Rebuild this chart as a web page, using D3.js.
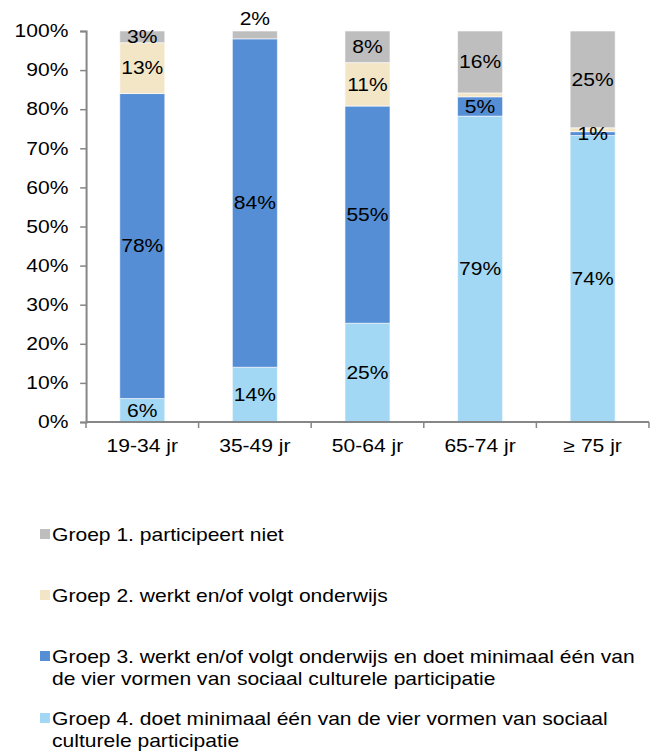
<!DOCTYPE html>
<html>
<head>
<meta charset="utf-8">
<script src="https://cdn.jsdelivr.net/npm/d3@7/dist/d3.min.js"></script>
<style>
  html, body { margin: 0; padding: 0; background: #fff; }
  svg { display: block; }
  text { font-family: "Liberation Sans", Arial, sans-serif; fill: #000; }
</style>
</head>
<body>
<script>
// ---- data ----
const categories = ["19-34 jr", "35-49 jr", "50-64 jr", "65-74 jr", "\u2265 75 jr"];
const groep1 = [3, 2, 8, 16, 25];   // participeert niet
const groep2 = [13, 0, 11, 1, 1];   // werkt en/of volgt onderwijs
const groep3 = [78, 84, 55, 5, 1];  // werkt/onderwijs + participatie
const groep4 = [6, 14, 25, 79, 74]; // doet minimaal één vorm
const groep2LabelShown = [true, false, true, false, false];
const yTicks = [0, 0.1, 0.2, 0.3, 0.4, 0.5, 0.6, 0.7, 0.8, 0.9, 1.0];
const seriesNames = [
  ["Groep 1. participeert niet"],
  ["Groep 2. werkt en/of volgt onderwijs"],
  ["Groep 3. werkt en/of volgt onderwijs en doet minimaal \u00e9\u00e9n van", "de vier vormen van sociaal culturele participatie"],
  ["Groep 4. doet minimaal \u00e9\u00e9n van de vier vormen van sociaal", "culturele participatie"]
];
const colors = {g1: "#BEBEBE", g2: "#F3E6C6", g3: "#558ED5", g4: "#A3D8F5"};

// ---- layout (viewBox slightly narrower to reproduce horizontal stretch) ----
const W = 559, H = 751;
const svg = d3.select("body").append("svg")
  .attr("width", 654).attr("height", 751)
  .attr("viewBox", `0 0 ${W} ${H}`)
  .attr("preserveAspectRatio", "none");

const table = categories.map((c, i) => ({cat: c, g4: groep4[i], g3: groep3[i], g2: groep2[i], g1: groep1[i]}));
const keys = ["g4", "g3", "g2", "g1"];
const stacked = d3.stack().keys(keys).offset(d3.stackOffsetExpand)(table);

const x = d3.scaleBand().domain(categories).range([73.5, 554.7]).paddingInner(0.6).paddingOuter(0.3);
const y = d3.scaleLinear().domain([0, 1]).range([422, 31]);

const axisColor = "#868686";

// bars
const layers = svg.append("g").selectAll("g").data(stacked).join("g")
  .attr("fill", d => colors[d.key]);
layers.selectAll("rect").data(d => d).join("rect")
  .attr("x", d => x(d.data.cat))
  .attr("width", x.bandwidth())
  .attr("y", d => y(d[1]))
  .attr("height", d => y(d[0]) - y(d[1]))
  .attr("stroke", "#fff").attr("stroke-width", 0.6)
  .attr("vector-effect", "non-scaling-stroke");

// labels
const labelG = svg.append("g");
stacked.forEach(layer => {
  layer.forEach((d, i) => {
    const v = d.data[layer.key];
    if (v <= 0) return;
    if (layer.key === "g2" && !groep2LabelShown[i]) return;
    const h = y(d[0]) - y(d[1]);
    let ly = (y(d[0]) + y(d[1])) / 2;
    let dy = "0.35em";
    if (layer.key === "g1" && h < 9) { ly = y(d[1]) - 6; dy = "0"; }
    labelG.append("text")
      .attr("x", x(d.data.cat) + x.bandwidth() / 2)
      .attr("y", ly).attr("dy", dy)
      .attr("text-anchor", "middle")
      .attr("font-size", 18)
      .text(v + "%");
  });
});

// y axis
const yAxis = svg.append("g").attr("transform", "translate(73.5,0)")
  .call(d3.axisLeft(y).tickValues(yTicks).tickFormat(d3.format(".0%")).tickSize(5).tickPadding(10));
yAxis.select(".domain").attr("stroke", axisColor).attr("stroke-width", 2).attr("vector-effect", "non-scaling-stroke");
yAxis.selectAll(".tick line").attr("stroke", axisColor).attr("stroke-width", 1.5).attr("vector-effect", "non-scaling-stroke");
yAxis.selectAll(".tick text").attr("font-size", 18).attr("fill", "#000")
  .attr("font-family", "Liberation Sans, Arial, sans-serif");

// x axis
const xAxisG = svg.append("g");
xAxisG.append("line").attr("x1", 73.5).attr("x2", 554.7).attr("y1", 422).attr("y2", 422)
  .attr("stroke", axisColor).attr("stroke-width", 2).attr("vector-effect", "non-scaling-stroke");
const tickXs = categories.map(c => x(c) + x.bandwidth() / 2 - x.step() / 2)
  .concat([x(categories[categories.length - 1]) + x.bandwidth() / 2 + x.step() / 2]);
xAxisG.selectAll("line.tk").data(tickXs).join("line").attr("class", "tk")
  .attr("x1", d => d).attr("x2", d => d).attr("y1", 422).attr("y2", 428)
  .attr("stroke", axisColor).attr("stroke-width", 1.5).attr("vector-effect", "non-scaling-stroke");
xAxisG.selectAll("text").data(categories).join("text")
  .attr("x", d => x(d) + x.bandwidth() / 2).attr("y", 452)
  .attr("text-anchor", "middle").attr("font-size", 18).text(d => d);

// legend
const legendKeys = ["g1", "g2", "g3", "g4"];
const legendY = [541, 602, 663, 725];
const legend = svg.append("g");
legendKeys.forEach((k, i) => {
  legend.append("rect").attr("x", 34.2).attr("y", legendY[i] - 12).attr("width", 8.5).attr("height", 10)
    .attr("fill", colors[k]);
  seriesNames[i].forEach((line, j) => {
    legend.append("text").attr("x", 44.5).attr("y", legendY[i] + j * 22)
      .attr("font-size", 18).text(line);
  });
});
</script>
</body>
</html>
